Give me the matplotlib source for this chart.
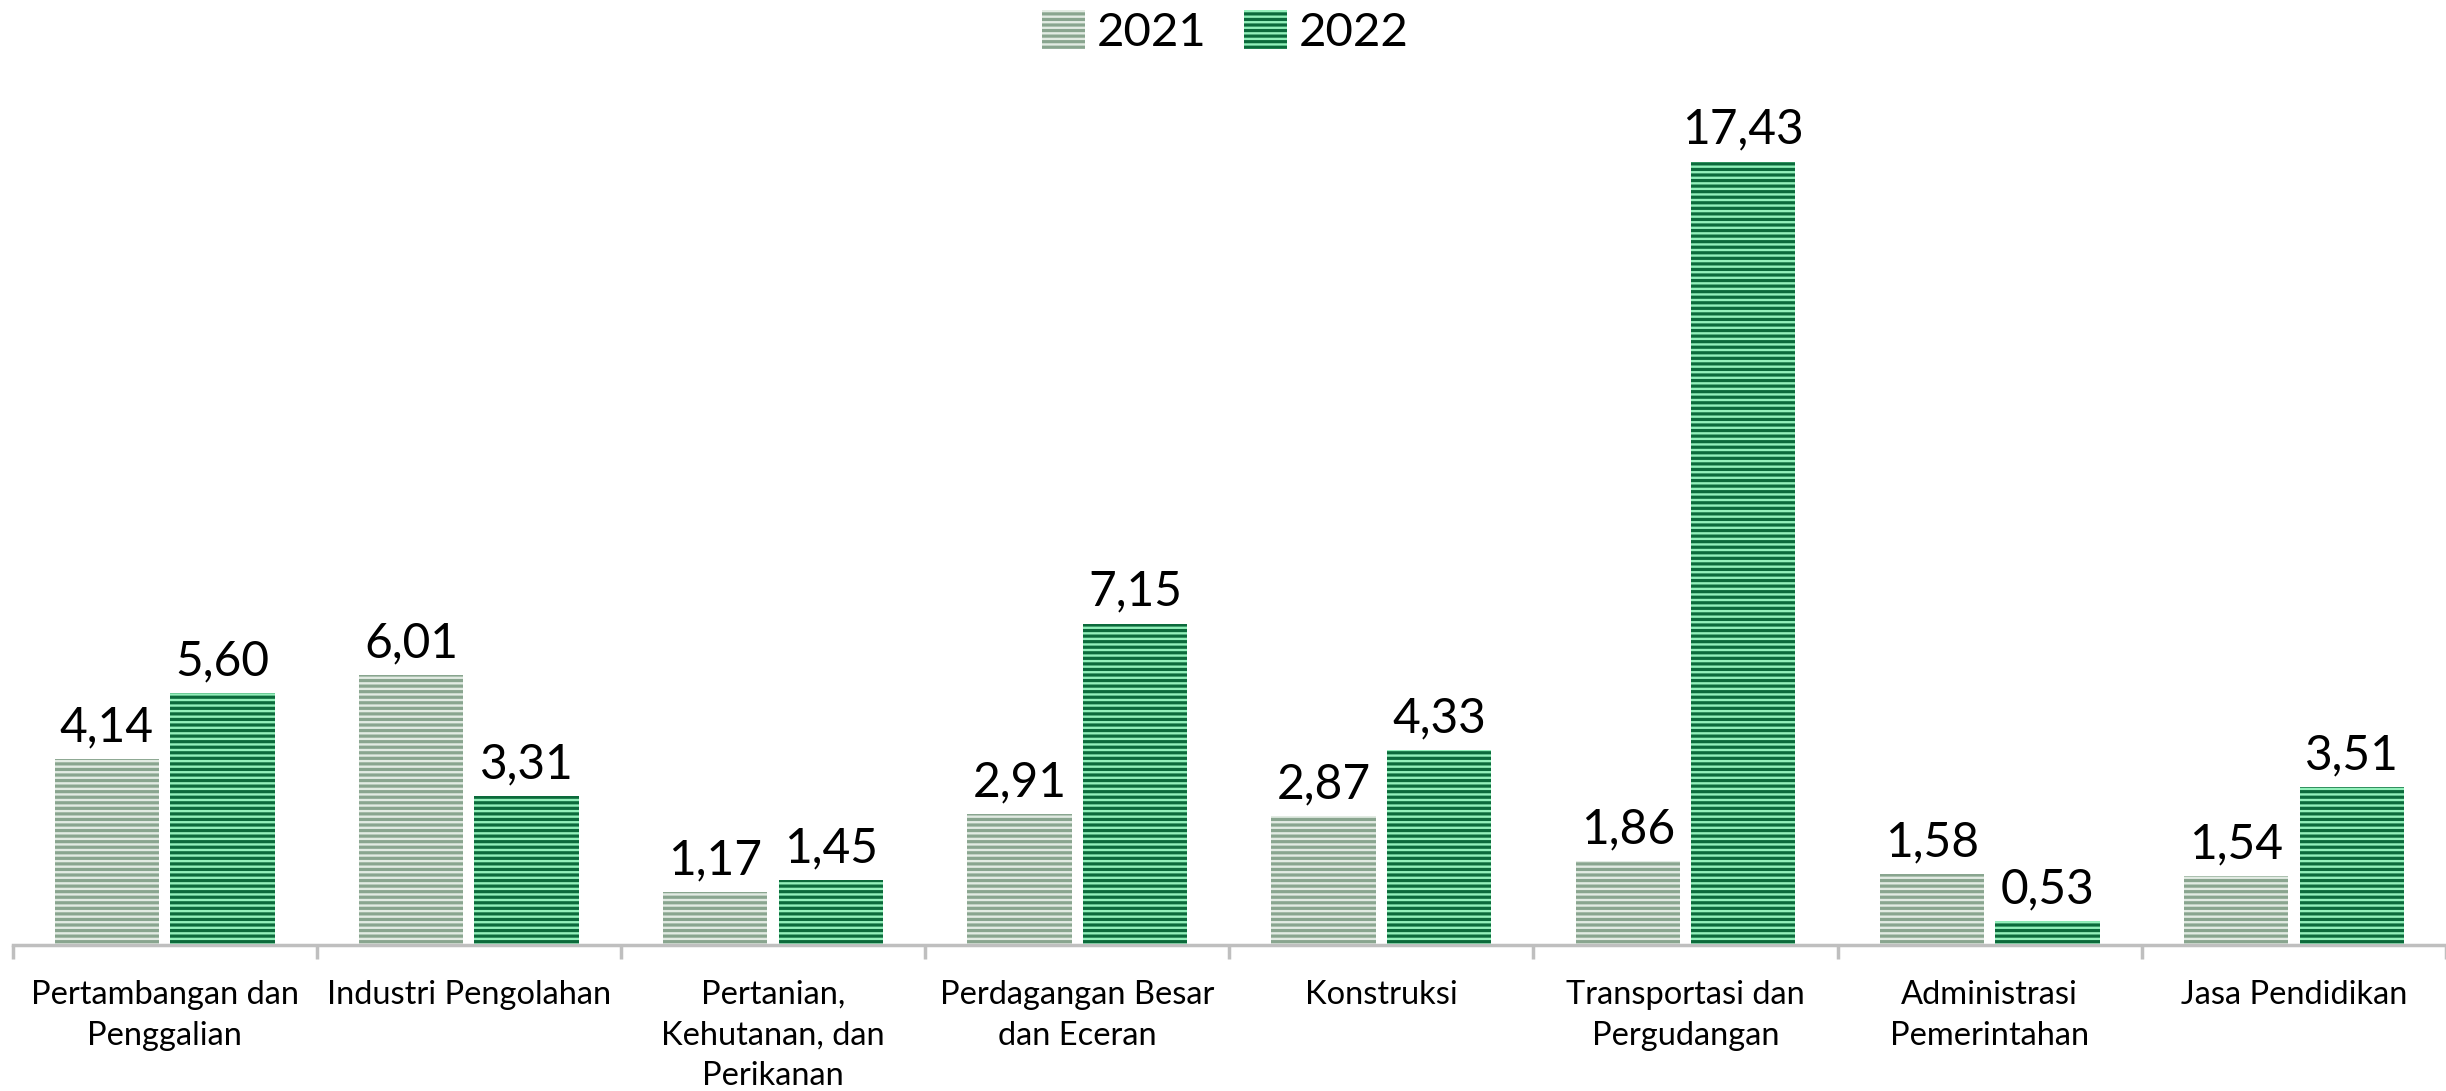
import matplotlib
matplotlib.use("Agg")
import matplotlib.pyplot as plt
import numpy as np

categories = ["Pertambangan dan\nPenggalian", "Industri Pengolahan", "Pertanian,\nKehutanan, dan\nPerikanan",
              "Perdagangan Besar\ndan Eceran", "Konstruksi", "Transportasi dan\nPergudangan",
              "Administrasi\nPemerintahan", "Jasa Pendidikan"]
series_names = ["2021", "2022"]
values_2021 = [4.14, 6.01, 1.17, 2.91, 2.87, 1.86, 1.58, 1.54]
values_2022 = [5.60, 3.31, 1.45, 7.15, 4.33, 17.43, 0.53, 3.51]

plt.rcParams['font.family'] = ['Lato', 'DejaVu Sans']
plt.rcParams['hatch.linewidth'] = 2.3

W, H = 2446, 1091
fig = plt.figure(figsize=(W / 100, H / 100), dpi=100)
ax = fig.add_axes([12.5 / W, 1 - 945 / H, 1 - 12.5 / W, (945 - 46) / H])

x = np.arange(len(categories))
bw = 0.343
off = 0.19
styles = [dict(face="#e2ebe3", hatch_col="#89a58f"), dict(face="#93f0bb", hatch_col="#0b6a3b")]
bars_all = []
for vals, o, st, name in zip([values_2021, values_2022], [-off, off], styles, series_names):
    b = ax.bar(x + o, vals, bw, color=st["face"], edgecolor=st["hatch_col"], hatch="---",
               linewidth=0, label=name, zorder=2)
    bars_all.append(b)
    for xi, v in zip(x + o, vals):
        ax.annotate(f"{v:.2f}".replace(".", ","), (xi, v), xytext=(0, 7), textcoords="offset points",
                    ha="center", va="bottom", fontsize=34.5, color="#000000")

ax.set_xlim(-0.5, len(categories) - 0.5)
ax.set_ylim(0, 20)
for s in ["top", "right", "left"]:
    ax.spines[s].set_visible(False)
ax.spines["bottom"].set_color("#bfbfbf")
ax.spines["bottom"].set_linewidth(2.5)
ax.set_yticks([])
ax.set_xticks(np.arange(len(categories) + 1) - 0.5)
ax.set_xticklabels([])
ax.tick_params(axis="x", which="major", length=10, width=2.5, color="#bfbfbf")
ax.set_xticks(x, minor=True)
ax.set_xticklabels(categories, minor=True, fontsize=23.5, linespacing=1.45)
ax.tick_params(axis="x", which="minor", length=0, pad=25)

leg = fig.legend(handles=bars_all, labels=series_names, loc="upper center", bbox_to_anchor=(0.501, 1.03),
                 ncol=2, frameon=False, fontsize=34, handlelength=0.9, handleheight=0.9,
                 handletextpad=0.25, columnspacing=0.8)

fig.savefig("out.png", dpi=100)
